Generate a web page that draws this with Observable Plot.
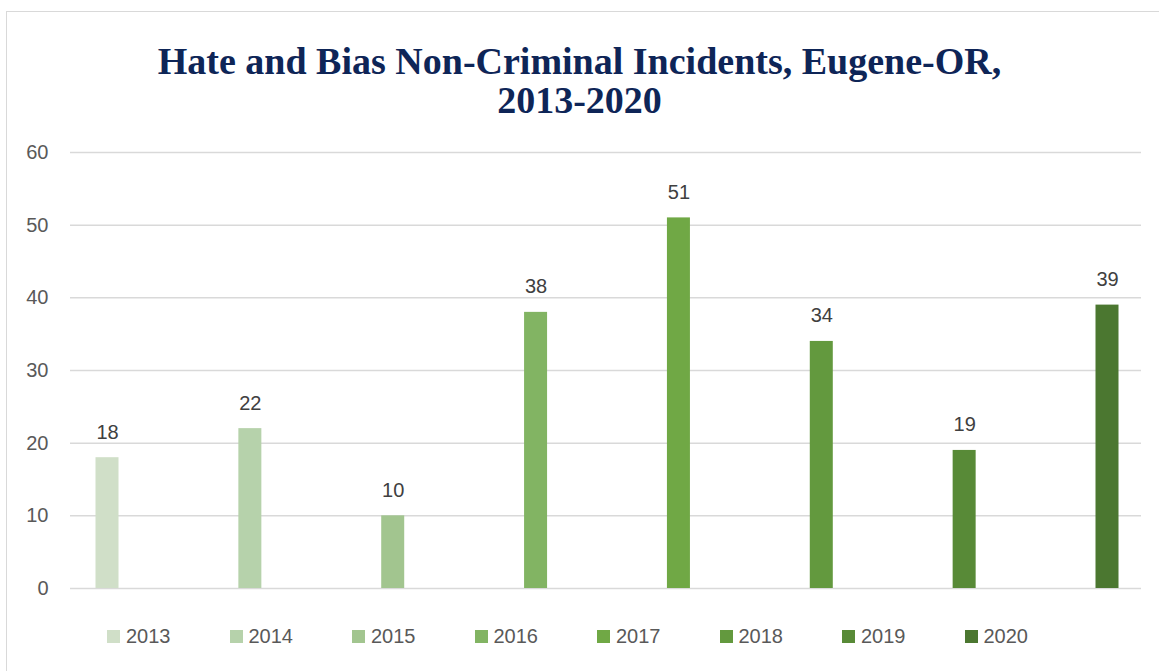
<!DOCTYPE html>
<html><head><meta charset="utf-8">
<script src="https://cdn.jsdelivr.net/npm/d3@7"></script>
<script src="https://cdn.jsdelivr.net/npm/@observablehq/plot@0.6"></script>
<style>
body{margin:0;background:#fff;}
#wrap{position:relative;width:1159px;height:671px;overflow:hidden;font-family:"Liberation Sans",Arial,sans-serif;background:#fff;}
#frame{position:absolute;left:6px;top:11px;width:1200px;height:700px;border:1.5px solid #d9d9d9;box-sizing:border-box;}
#title{position:absolute;left:0;width:1159px;top:42px;text-align:center;font-family:"Liberation Serif",serif;font-weight:bold;font-size:38px;line-height:39px;color:#0e2557;}
#chart{position:absolute;left:0;top:130px;}
#legend{position:absolute;top:624px;left:107px;display:flex;}
.item{display:flex;align-items:center;width:122.5px;font-size:20px;color:#595959;height:24px;}
.sw{width:13px;height:13px;margin-right:6px;flex:none;}
</style>
</head><body>
<div id="wrap">
<div id="frame"></div>
<div id="title">Hate and Bias Non-Criminal Incidents, Eugene-OR,<br>2013-2020</div>
<div id="chart"></div>
<div id="legend"></div>
</div>
<script>
const years = ["2013","2014","2015","2016","2017","2018","2019","2020"];
const values = [18, 22, 10, 38, 51, 34, 19, 39];
const colors = ["#d0dfc8","#b6d2ab","#a2c58f","#82b463","#70a845","#63993e","#588a37","#4b7730"];
const yTicks = [0, 10, 20, 30, 40, 50, 60];

const data = years.map((y, i) => ({year: y, value: values[i]}));

const chart = Plot.plot({
  width: 1159,
  height: 480,
  marginLeft: 70,
  marginRight: 18,
  marginTop: 22,
  marginBottom: 22,
  style: {fontFamily: "'Liberation Sans', Arial, sans-serif", background: "transparent"},
  x: {domain: years, range: [70, 1144], round: false, paddingInner: 0.839, paddingOuter: 0.1785, axis: null},
  y: {domain: [0, 60], axis: null},
  color: {domain: years, range: colors},
  marks: [
    Plot.gridY(yTicks, {stroke: "#d9d9d9", strokeOpacity: 1, strokeWidth: 1.5}),
    Plot.axisY(yTicks, {tickSize: 0, tickPadding: 22, fontSize: 20, fill: "#595959", label: null}),
    Plot.barY(data, {x: "year", y: "value", fill: "year"}),
    Plot.text(data, {x: "year", y: "value", text: d => String(d.value), dy: -19, lineAnchor: "bottom", fontSize: 20, fill: "#404040"})
  ]
});
document.getElementById("chart").appendChild(chart);

const legend = document.getElementById("legend");
years.forEach((y, i) => {
  const item = document.createElement("div");
  item.className = "item";
  const sw = document.createElement("span");
  sw.className = "sw";
  sw.style.background = colors[i];
  const t = document.createElement("span");
  t.textContent = y;
  item.appendChild(sw);
  item.appendChild(t);
  legend.appendChild(item);
});
</script>
</body></html>
